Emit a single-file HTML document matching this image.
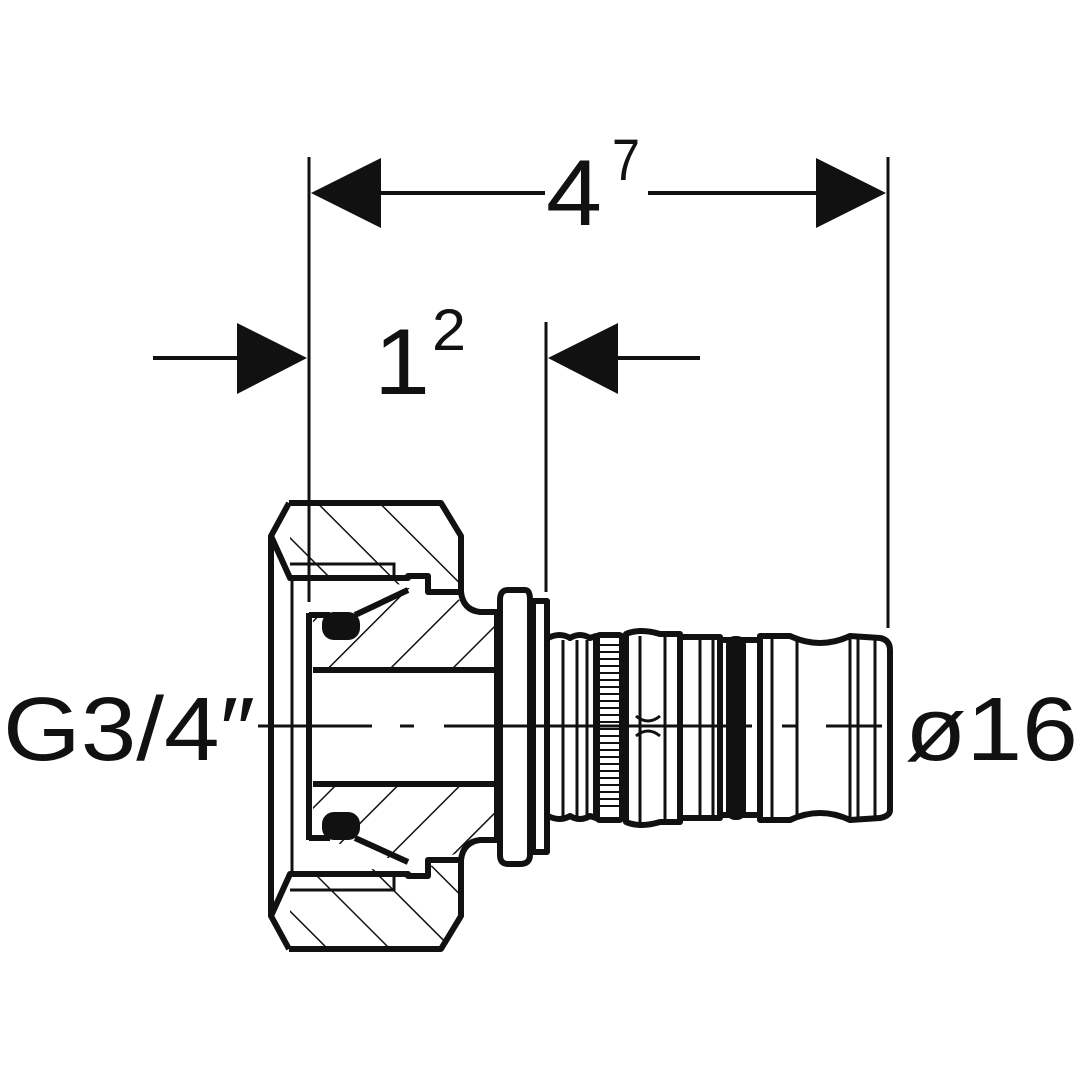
<!DOCTYPE html>
<html><head><meta charset="utf-8"><style>
html,body{margin:0;padding:0;background:#fff}
svg{display:block}
text{font-family:"Liberation Sans",sans-serif;fill:#111}
</style></head><body>
<svg width="1080" height="1080" viewBox="0 0 1080 1080" xmlns="http://www.w3.org/2000/svg">
<defs>
<pattern id="h" patternUnits="userSpaceOnUse" width="44" height="44" patternTransform="rotate(45)">
<line x1="0" y1="0" x2="0" y2="44" stroke="#111" stroke-width="3"/>
</pattern>
<pattern id="h2" patternUnits="userSpaceOnUse" width="44" height="44" patternTransform="rotate(-45)">
<line x1="0" y1="0" x2="0" y2="44" stroke="#111" stroke-width="3"/>
</pattern>
</defs>

<!-- dimension lines -->
<g stroke="#111" stroke-width="3" fill="none">
<line x1="309" y1="157" x2="309" y2="602"/>
<line x1="888" y1="157" x2="888" y2="628"/>
<line x1="546" y1="322" x2="546" y2="592"/>
<line x1="381" y1="193" x2="545" y2="193" stroke-width="4"/>
<line x1="648" y1="193" x2="816" y2="193" stroke-width="4"/>
<line x1="153" y1="358" x2="237" y2="358" stroke-width="4"/>
<line x1="618" y1="358" x2="700" y2="358" stroke-width="4"/>
</g>
<g fill="#111">
<polygon points="311,193 381,158 381,228"/>
<polygon points="886,193 816,158 816,228"/>
<polygon points="307,358 237,323 237,394"/>
<polygon points="548,358 618,323 618,394"/>
</g>
<text x="546" y="225" font-size="94" textLength="56" lengthAdjust="spacingAndGlyphs">4</text>
<text x="612" y="180" font-size="58" textLength="28" lengthAdjust="spacingAndGlyphs">7</text>
<text x="374" y="394" font-size="94" textLength="56" lengthAdjust="spacingAndGlyphs">1</text>
<text x="432" y="350" font-size="58" textLength="34" lengthAdjust="spacingAndGlyphs">2</text>
<text x="3" y="760" font-size="90" textLength="252" lengthAdjust="spacingAndGlyphs">G3/4″</text>
<text x="905" y="760" font-size="90" textLength="173" lengthAdjust="spacingAndGlyphs">ø16</text>

<!-- nut hatched -->
<path d="M290,504 L440,504 L460,536 L460,588 L290,578 Z M290,948 L440,948 L460,916 L460,864 L290,874 Z" fill="url(#h2)"/>
<!-- insert hatched -->
<path d="M313,617 L408,588 L428,588 L460,600 L497,628 L497,668 L313,668 Z M313,786 L497,786 L497,826 L460,852 L428,864 L408,864 L313,836 Z" fill="url(#h)"/>
<rect x="313" y="672" width="184" height="110" fill="#fff"/>

<g stroke="#111" stroke-width="6" fill="none" stroke-linejoin="round">
<path d="M289,503 L441,503 L461,536 L461,592 Q463,610 480,612 L497,612"/>
<path d="M289,949 L441,949 L461,916 L461,860 Q463,842 480,840 L497,840"/>
<path d="M289,503 L271,536 L271,916 L289,949"/>
<path d="M271,536 L290,578 L408,578 L408,576 L428,576 L428,592 L460,592"/>
<path d="M271,916 L290,874 L408,874 L408,876 L428,876 L428,860 L460,860"/>
<path d="M497,612 L497,840"/>
<path d="M309,613 L309,840 "/>
<path d="M309,615 L330,615 M309,838 L330,838"/>
<path d="M313,670 L497,670 M313,784 L497,784"/>
<path d="M355,615 L408,590 M355,838 L408,862"/>
<path d="M508,590 L525,590 Q530,590 530,600 L530,855 Q530,864 520,864 L508,864 Q500,864 500,855 L500,600 Q500,590 508,590 Z"/>
<rect x="533" y="601" width="14" height="251"/>
<path d="M548,638 Q560,632 570,638 Q580,632 590,638 L596,636 L596,818 L590,816 Q580,822 570,816 Q560,822 548,816"/>
<rect x="597" y="635" width="25" height="185" rx="3"/>
<path d="M626,634 Q640,628 660,634 L680,634 L680,822 L660,822 Q640,828 626,822 Z"/>
<path d="M680,637 L720,637 L720,818 L680,818"/>
<path d="M722,640 L760,640 M722,815 L760,815"/>
<path d="M760,636 L790,636 Q820,650 850,636 L880,638 Q890,640 890,650 L890,810 Q890,816 880,818 L850,820 Q820,806 790,820 L760,820 Z"/>
</g>
<g stroke="#111" stroke-width="3" fill="none">
<path d="M290,564 L394,564 L394,577 M290,890 L394,890 L394,876"/>
<line x1="292" y1="576" x2="292" y2="876"/>
<line x1="563" y1="640" x2="563" y2="816"/><line x1="577" y1="640" x2="577" y2="816"/><line x1="587" y1="640" x2="587" y2="816"/>
<line x1="640" y1="636" x2="640" y2="822"/><line x1="665" y1="636" x2="665" y2="822"/>
<line x1="700" y1="637" x2="700" y2="818"/><line x1="713" y1="637" x2="713" y2="818"/>
<line x1="772" y1="638" x2="772" y2="818"/><line x1="797" y1="638" x2="797" y2="818"/>
<line x1="850" y1="636" x2="850" y2="820"/><line x1="858" y1="636" x2="858" y2="820"/><line x1="875" y1="638" x2="875" y2="818"/>
<path d="M636,716 Q648,726 660,716 M636,736 Q648,726 660,736"/>
</g>
<g stroke="#111" stroke-width="2">
<path d="M600,645 H620 M600,652 H620 M600,659 H620 M600,666 H620 M600,673 H620 M600,680 H620 M600,687 H620 M600,694 H620 M600,701 H620 M600,708 H620 M600,715 H620 M600,722 H620 M600,729 H620 M600,736 H620 M600,743 H620 M600,750 H620 M600,757 H620 M600,764 H620 M600,771 H620 M600,778 H620 M600,785 H620 M600,792 H620 M600,799 H620 M600,806 H620"/>
</g>
<g fill="#111">
<rect x="322" y="612" width="38" height="28" rx="12"/>
<rect x="322" y="812" width="38" height="28" rx="12"/>
<rect x="726" y="636" width="20" height="184" rx="9"/>
</g>
<g stroke="#111" stroke-width="3">
<line x1="258" y1="726" x2="372" y2="726"/>
<line x1="400" y1="726" x2="414" y2="726"/>
<line x1="444" y1="726" x2="752" y2="726"/>
<line x1="782" y1="726" x2="796" y2="726"/>
<line x1="826" y1="726" x2="882" y2="726"/>
</g>
</svg>
</body></html>
